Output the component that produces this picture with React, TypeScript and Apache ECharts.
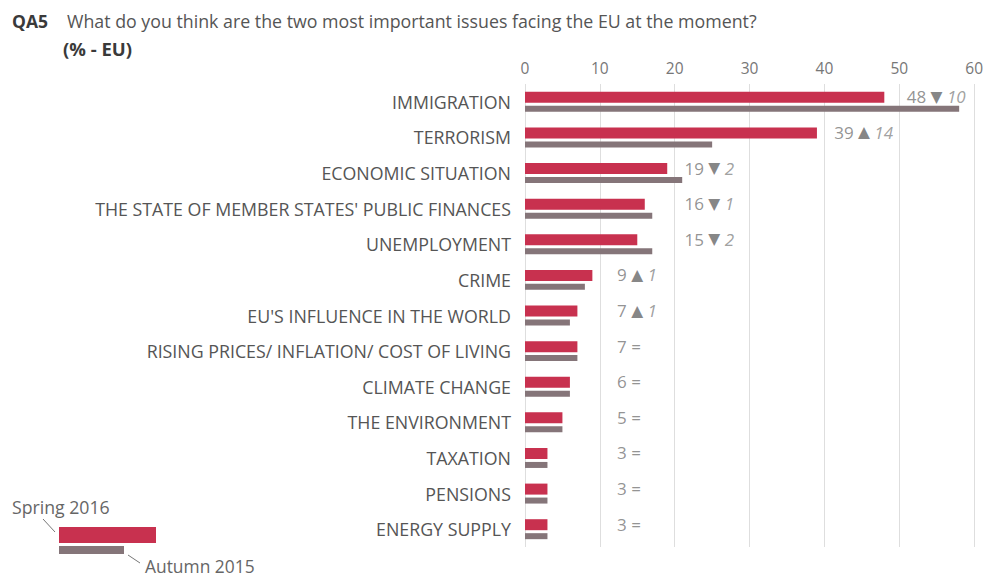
import React, { useEffect, useRef } from "react";
import * as echarts from "echarts";

const categories = [
  "IMMIGRATION",
  "TERRORISM",
  "ECONOMIC SITUATION",
  "THE STATE OF MEMBER STATES' PUBLIC FINANCES",
  "UNEMPLOYMENT",
  "CRIME",
  "EU'S INFLUENCE IN THE WORLD",
  "RISING PRICES/ INFLATION/ COST OF LIVING",
  "CLIMATE CHANGE",
  "THE ENVIRONMENT",
  "TAXATION",
  "PENSIONS",
  "ENERGY SUPPLY",
];
const spring2016 = [48, 39, 19, 16, 15, 9, 7, 7, 6, 5, 3, 3, 3];
const autumn2015 = [58, 25, 21, 17, 17, 8, 6, 7, 6, 5, 3, 3, 3];
const xTicks = { min: 0, max: 60, interval: 10 };
const titleCode = "QA5";
const titleText = "What do you think are the two most important issues facing the EU at the moment?";
const subtitleText = "(% - EU)";
const legendNames = ["Spring 2016", "Autumn 2015"];

const RED = "#C8314F";
const GREY = "#857579";
const FONT = "'Open Sans', 'DejaVu Sans', sans-serif";

export default function App() {
  const ref = useRef<HTMLDivElement>(null);
  useEffect(() => {
    if (!ref.current) return;
    const chart = echarts.init(ref.current, undefined, { renderer: "svg" });

    const labelData = spring2016.map((v, i) => {
      const col = Math.ceil(v / 10) * 10 + (v < 10 ? 2.3 : v > 45 ? 1.0 : 1.3);
      return { value: [col, i], diff: v - autumn2015[i], v };
    });

    chart.setOption({
      animation: false,
      textStyle: { fontFamily: FONT },
      grid: { left: 525, right: 11, top: 84, bottom: 30, containLabel: false },
      xAxis: {
        type: "value",
        position: "top",
        min: xTicks.min,
        max: xTicks.max,
        interval: xTicks.interval,
        axisLine: { show: false },
        axisTick: { show: false },
        axisLabel: { color: "#777", fontSize: 15.5, margin: 8, fontFamily: FONT },
        splitLine: { show: true, lineStyle: { color: "#dedede", width: 1 } },
      },
      yAxis: {
        type: "category",
        inverse: true,
        data: categories,
        axisLine: { show: false },
        axisTick: { show: false },
        axisLabel: {
          color: "#555",
          fontSize: 17.8,
          margin: 14,
          fontFamily: FONT,
          padding: [0, 0, 10, 0],
        },
      },
      series: [
        {
          type: "bar",
          name: legendNames[0],
          data: spring2016,
          barWidth: 11,
          barGap: "27%",
          itemStyle: { color: RED },
        },
        {
          type: "bar",
          name: legendNames[1],
          data: autumn2015,
          barWidth: 6,
          barGap: "27%",
          itemStyle: { color: GREY },
        },
        {
          type: "scatter",
          symbolSize: 0,
          data: labelData.map((d) => d.value),
          z: 5,
          label: {
            show: true,
            position: "right",
            distance: 0,
            offset: [0, -5],
            formatter: (p: any) => {
              const d = labelData[p.dataIndex];
              if (d.diff === 0) return `{v|${d.v} }{eq|=}`;
              const arrow = d.diff > 0 ? "▲" : "▼";
              return `{v|${d.v} }{ar|${arrow}}{d| ${Math.abs(d.diff)}}`;
            },
            rich: {
              v: { color: "#777", fontSize: 17, fontFamily: FONT },
              ar: { color: "#666", fontSize: 15.5, fontFamily: "'DejaVu Sans', sans-serif" },
              d: { color: "#888", fontSize: 17, fontStyle: "italic", fontFamily: FONT },
              eq: { color: "#777", fontSize: 17, fontFamily: FONT },
            },
          },
        },
      ],
      graphic: [
        {
          type: "text",
          x: 12,
          y: 21,
          style: { text: titleCode, fontSize: 17.5, fontWeight: "bold", fill: "#3a3a3a", fontFamily: FONT, verticalAlign: "middle" },
        },
        {
          type: "text",
          x: 67,
          y: 21,
          style: { text: titleText, fontSize: 17.8, fill: "#555", fontFamily: FONT, verticalAlign: "middle" },
        },
        {
          type: "text",
          x: 63,
          y: 48,
          style: { text: subtitleText, fontSize: 18.5, fontWeight: "bold", fill: "#3a3a3a", fontFamily: FONT, verticalAlign: "middle" },
        },
        {
          type: "text",
          x: 12,
          y: 507,
          style: { text: legendNames[0], fontSize: 17.7, fill: "#666", fontFamily: FONT, verticalAlign: "middle" },
        },
        { type: "rect", shape: { x: 59, y: 527, width: 97, height: 16 }, style: { fill: RED } },
        { type: "rect", shape: { x: 59, y: 546, width: 65, height: 8 }, style: { fill: GREY } },
        { type: "line", shape: { x1: 43, y1: 519, x2: 55, y2: 532 }, style: { stroke: "#777", lineWidth: 1 } },
        { type: "line", shape: { x1: 128, y1: 555, x2: 140, y2: 563 }, style: { stroke: "#777", lineWidth: 1 } },
        {
          type: "text",
          x: 145,
          y: 566,
          style: { text: legendNames[1], fontSize: 17.4, fill: "#666", fontFamily: FONT, verticalAlign: "middle" },
        },
      ],
    });
    return () => chart.dispose();
  }, []);
  return <div ref={ref} style={{ width: 986, height: 577, position: "absolute", left: 0, top: 0 }} />;
}
